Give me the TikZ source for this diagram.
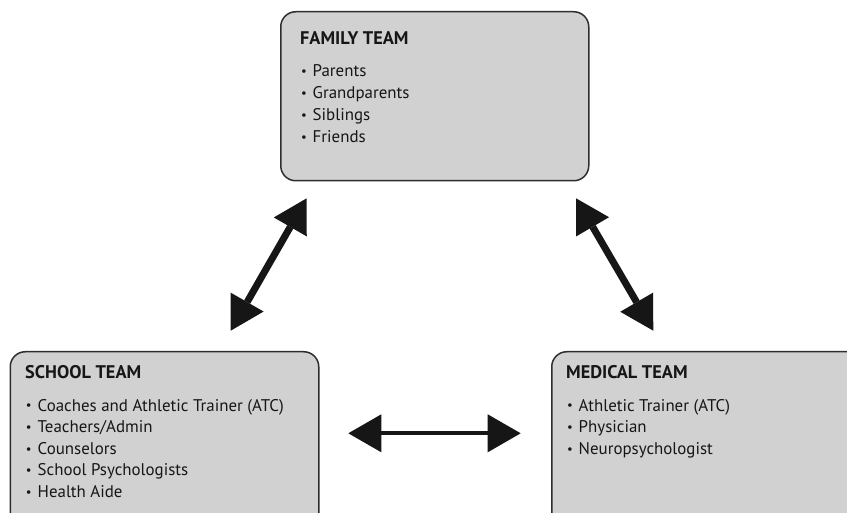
\documentclass[tikz,border=0pt]{standalone}
\usepackage{fontspec}
\setmainfont{PT Sans}
\usetikzlibrary{arrows.meta}

\definecolor{boxfill}{HTML}{D1D1D1}
\definecolor{boxline}{HTML}{2E2E2E}
\definecolor{ink}{HTML}{161616}

% small bullet followed by a fixed indent
\newcommand{\listbullet}{\makebox[12.5pt][l]{\hspace{0.8pt}\raisebox{0.12ex}{\scalebox{0.75}{\textbullet}}}}

\tikzset{
  teambox/.style={draw=boxline, line width=1.5pt, fill=boxfill, rounded corners=15pt,
                  anchor=north west, inner sep=0pt},
  teamtitle/.style={anchor=base west, inner sep=0pt, text=ink,
                    font=\bfseries\fontsize{18.3}{20}\selectfont},
  entry/.style={anchor=base west, inner sep=0pt, text=ink,
                font=\fontsize{16.9}{20}\selectfont},
  bigtip/.tip={Triangle[length=33pt, width=38pt, line width=0pt]},
  link/.style={draw=ink, line width=#1, bigtip-bigtip},
}

\begin{document}
\begin{tikzpicture}[x=1pt, y=-1pt]
  \clip (0,0) rectangle (847,513);
  \fill[white] (0,0) rectangle (847,513);

  % team boxes
  \node[teambox, minimum width=308pt, minimum height=169pt] (family) at (280,11) {};
  \node[teambox, minimum width=308.5pt, minimum height=180pt] (school) at (9.5,351) {};
  \node[teambox, minimum width=320pt, minimum height=180pt] (medical) at (551,351) {};

  % family team
  \node[teamtitle] (family-title) at (300,45) {FAMILY TEAM};
  \foreach \t [count=\i] in {Parents, Grandparents, Siblings, Friends}
    \node[entry] (family-\i) at (300,{55+22*\i}) {\listbullet\t};

  % school team
  \node[teamtitle] (school-title) at (25,378) {SCHOOL TEAM};
  \foreach \t [count=\i] in {Coaches and Athletic Trainer (ATC), Teachers/Admin,
                             Counselors, School Psychologists, Health Aide}
    \node[entry] (school-\i) at (25,{389.4+21.6*\i}) {\listbullet\t};

  % medical team
  \node[teamtitle] (medical-title) at (566,378) {MEDICAL TEAM};
  \foreach \t [count=\i] in {Athletic Trainer (ATC), Physician, Neuropsychologist}
    \node[entry] (medical-\i) at (566,{389.4+21.6*\i}) {\listbullet\t};

  % arrow end points
  \coordinate (fs-low)  at (230.7,330.7);
  \coordinate (fs-high) at (306.7,198.3);
  \coordinate (fm-high) at (576,198.3);
  \coordinate (fm-low)  at (653.3,330.7);
  \coordinate (sm-left) at (348.3,433.3);
  \coordinate (sm-right) at (520.7,433.3);

  % two-way links between the teams
  \draw[link=7pt] (fs-low) -- (fs-high);
  \draw[link=7pt] (fm-high) -- (fm-low);
  \draw[link=4.3pt] (sm-left) -- (sm-right);
\end{tikzpicture}
\end{document}
